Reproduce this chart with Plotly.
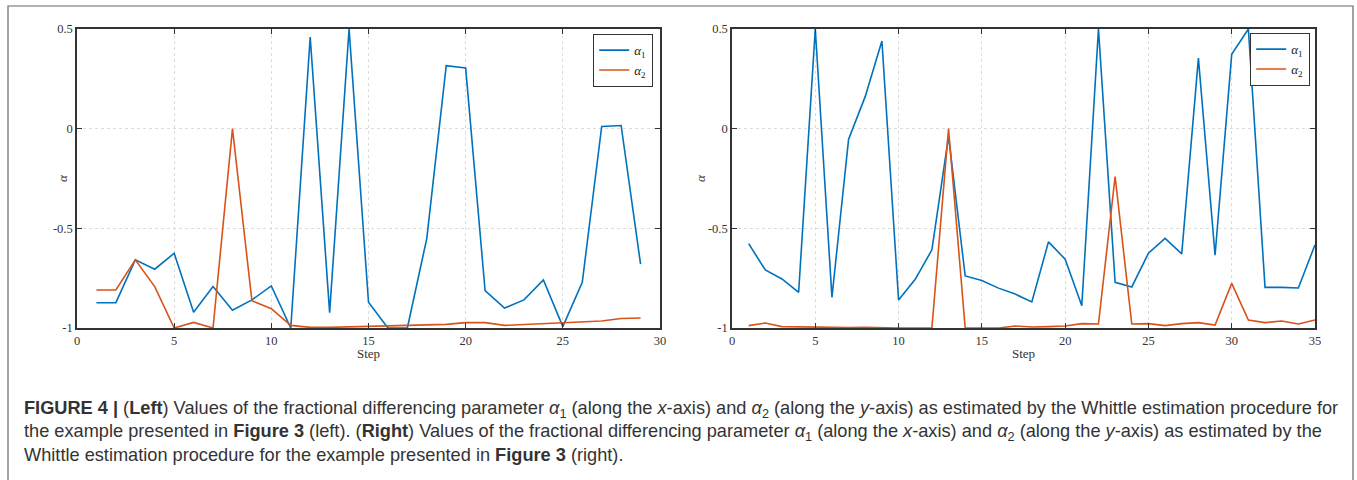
import plotly.graph_objects as go

# ---- data ----
left_steps = list(range(1, 30))
left_alpha1 = [-0.873, -0.873, -0.658, -0.705, -0.625, -0.921, -0.792, -0.911, -0.859, -0.789,
               -1.0, 0.46, -0.923, 0.5, -0.871, -1.0, -1.0, -0.55, 0.316, 0.304,
               -0.813, -0.900, -0.859, -0.759, -0.993, -0.771, 0.011, 0.016, -0.680]
left_alpha2 = [-0.809, -0.809, -0.658, -0.792, -1.0, -0.972, -1.0, 0.0, -0.863, -0.903,
               -0.987, -0.997, -0.997, -0.995, -0.992, -0.990, -0.987, -0.985, -0.982, -0.973,
               -0.973, -0.987, -0.982, -0.978, -0.975, -0.970, -0.965, -0.952, -0.950]

right_steps = list(range(1, 36))
right_alpha1 = [-0.577, -0.709, -0.754, -0.821, 0.5, -0.846, -0.053, 0.162, 0.44, -0.859,
                -0.756, -0.608, -0.039, -0.739, -0.762, -0.80, -0.830, -0.869, -0.568, -0.655,
                -0.888, 0.5, -0.771, -0.794, -0.625, -0.550, -0.628, 0.354, -0.635, 0.373,
                0.5, -0.796, -0.796, -0.799, -0.583]
right_alpha2 = [-0.988, -0.975, -0.993, -0.995, -0.997, -0.998, -0.998, -0.997, -1.0, -1.0,
                -1.0, -1.0, 0.0, -1.0, -1.0, -1.0, -0.990, -0.995, -0.993, -0.990,
                -0.978, -0.980, -0.240, -0.980, -0.978, -0.988, -0.978, -0.973, -0.985, -0.776,
                -0.960, -0.973, -0.965, -0.980, -0.960]

y_ticks = [-1, -0.5, 0, 0.5]
y_tick_text = ["-1", "-0.5", "0", "0.5"]
left_x_ticks = [0, 5, 10, 15, 20, 25, 30]
right_x_ticks = [0, 5, 10, 15, 20, 25, 30, 35]

names = ["<i>α</i><sub>1</sub>", "<i>α</i><sub>2</sub>"]
colors = ["#0072BD", "#D95319"]

W, H = 1357, 480

fig = go.Figure()

fig.add_trace(go.Scatter(x=left_steps, y=left_alpha1, mode="lines", name=names[0],
                         line=dict(color=colors[0], width=1.6), xaxis="x", yaxis="y", legend="legend"))
fig.add_trace(go.Scatter(x=left_steps, y=left_alpha2, mode="lines", name=names[1],
                         line=dict(color=colors[1], width=1.6), xaxis="x", yaxis="y", legend="legend"))
fig.add_trace(go.Scatter(x=right_steps, y=right_alpha1, mode="lines", name=names[0],
                         line=dict(color=colors[0], width=1.6), xaxis="x2", yaxis="y2", legend="legend2"))
fig.add_trace(go.Scatter(x=right_steps, y=right_alpha2, mode="lines", name=names[1],
                         line=dict(color=colors[1], width=1.6), xaxis="x2", yaxis="y2", legend="legend2"))

serif = "Liberation Serif, DejaVu Serif, serif"
tick_font = dict(family=serif, size=12.5, color="#333333")

def xaxis(domain, ticks, rng, anchor):
    return dict(domain=domain, range=rng, tickvals=ticks, ticktext=[str(t) for t in ticks],
                ticks="inside", ticklen=5, tickwidth=1.2, tickcolor="#333333",
                showline=True, linecolor="#333333", linewidth=1.5, mirror="ticks",
                showgrid=True, gridcolor="#dcdcdc", griddash="dot", gridwidth=1,
                zeroline=False, tickfont=tick_font, anchor=anchor, automargin=False,
                fixedrange=True)

def yaxis(domain, anchor):
    return dict(domain=domain, range=[-1, 0.5], tickvals=y_ticks, ticktext=y_tick_text,
                ticks="inside", ticklen=5, tickwidth=1.2, tickcolor="#333333",
                showline=True, linecolor="#333333", linewidth=1.5, mirror="ticks",
                showgrid=True, gridcolor="#dcdcdc", griddash="dot", gridwidth=1,
                zeroline=False, tickfont=tick_font, anchor=anchor, automargin=False,
                fixedrange=True)

legend_font = dict(family=serif, size=13, color="#222222")
ydom = [1 - 328 / H, 1 - 29 / H]
fig.update_layout(
    width=W, height=H,
    margin=dict(l=0, r=0, t=0, b=0),
    paper_bgcolor="white", plot_bgcolor="white",
    showlegend=True,
    xaxis=xaxis([77 / W, 660 / W], left_x_ticks, [0, 30], "y"),
    yaxis=yaxis(ydom, "x"),
    xaxis2=xaxis([732 / W, 1315 / W], right_x_ticks, [0, 35], "y2"),
    yaxis2=yaxis(ydom, "x2"),
    legend=dict(x=653 / W, y=1 - 34 / H, xanchor="right", yanchor="top",
                bgcolor="white", bordercolor="#333333", borderwidth=1.2,
                font=legend_font, itemwidth=30, tracegroupgap=0),
    legend2=dict(x=1310 / W, y=1 - 33 / H, xanchor="right", yanchor="top",
                 bgcolor="white", bordercolor="#333333", borderwidth=1.2,
                 font=legend_font, itemwidth=30, tracegroupgap=0),
)

label_font = dict(family=serif, size=13, color="#333333")
annotations = [
    dict(text="Step", x=(77 + 660) / 2 / W, y=1 - 353 / H, xref="paper", yref="paper",
         showarrow=False, font=label_font, xanchor="center", yanchor="middle"),
    dict(text="Step", x=(732 + 1315) / 2 / W, y=1 - 353 / H, xref="paper", yref="paper",
         showarrow=False, font=label_font, xanchor="center", yanchor="middle"),
    dict(text="<i>α</i>", x=62 / W, y=1 - 178 / H, xref="paper", yref="paper", textangle=-90,
         showarrow=False, font=label_font, xanchor="center", yanchor="middle"),
    dict(text="<i>α</i>", x=700 / W, y=1 - 178 / H, xref="paper", yref="paper", textangle=-90,
         showarrow=False, font=label_font, xanchor="center", yanchor="middle"),
]

caption_lines = [
    "<b>FIGURE 4 |</b> (<b>Left</b>) Values of the fractional differencing parameter <i>α</i><sub>1</sub> "
    "(along the <i>x</i>-axis) and <i>α</i><sub>2</sub> (along the <i>y</i>-axis) as estimated by the "
    "Whittle estimation procedure for",
    "the example presented in <b>Figure 3</b> (left). (<b>Right</b>) Values of the fractional differencing "
    "parameter <i>α</i><sub>1</sub> (along the <i>x</i>-axis) and <i>α</i><sub>2</sub> (along the "
    "<i>y</i>-axis) as estimated by the",
    "Whittle estimation procedure for the example presented in <b>Figure 3</b> (right).",
]
caption_y = [409, 432, 455]
cap_font = dict(family="Liberation Sans, Arial, sans-serif", size=18.2, color="#333333")
for line, yy in zip(caption_lines, caption_y):
    annotations.append(dict(text=line, x=22 / W, y=1 - yy / H, xref="paper", yref="paper",
                            showarrow=False, font=cap_font, xanchor="left", yanchor="middle",
                            align="left"))
fig.update_layout(annotations=annotations)

fig.add_shape(type="rect", xref="paper", yref="paper",
              x0=8 / W, x1=1353 / W, y0=-0.05, y1=1 - 6 / H,
              line=dict(color="#666666", width=1.2), fillcolor="rgba(0,0,0,0)", layer="below")

fig.write_html("out.html", config={"displayModeBar": False})
